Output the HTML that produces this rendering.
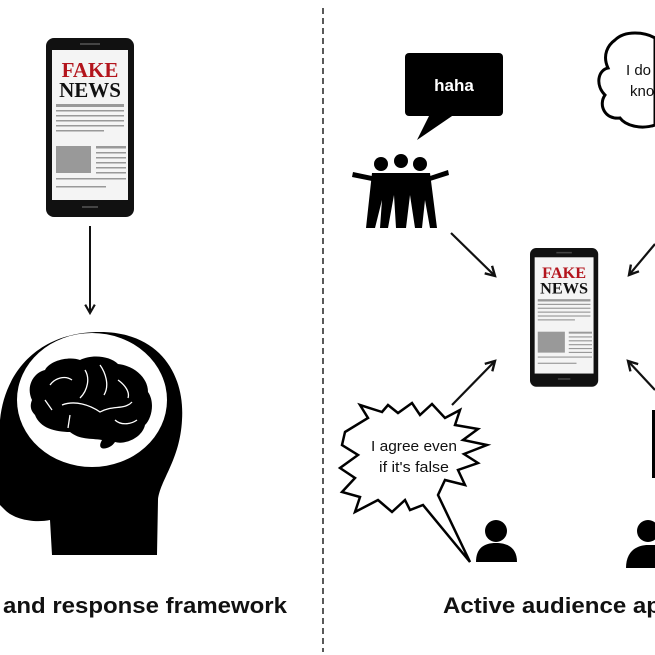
<!DOCTYPE html>
<html><head><meta charset="utf-8"><style>
html,body{margin:0;padding:0;background:#fff;width:655px;height:655px;overflow:hidden}
svg{display:block}
text{font-family:"Liberation Sans",sans-serif}
</style></head><body>
<svg width="655" height="655" viewBox="0 0 655 655" xmlns="http://www.w3.org/2000/svg">
<defs>
<g id="phone">
<rect x="0" y="0" width="88" height="179" rx="8" fill="#111"/>
<rect x="6" y="12" width="76" height="150" fill="#f4f4f4"/>
<rect x="34" y="5" width="20" height="2" fill="#444"/>
<rect x="36" y="168" width="16" height="2" fill="#444"/>
<text x="44" y="39" text-anchor="middle" font-weight="bold" font-size="21" fill="#b3141c" style="font-family:'Liberation Serif',serif">FAKE</text>
<text x="44" y="59" text-anchor="middle" font-weight="bold" font-size="21" fill="#111" style="font-family:'Liberation Serif',serif">NEWS</text>
<rect x="10" y="66" width="68" height="3" fill="#999"/>
<rect x="10" y="72" width="68" height="1.5" fill="#999"/>
<rect x="10" y="77" width="68" height="1.5" fill="#999"/>
<rect x="10" y="82" width="68" height="1.5" fill="#999"/>
<rect x="10" y="87" width="68" height="1.5" fill="#999"/>
<rect x="10" y="92" width="48" height="1.5" fill="#999"/>
<rect x="10" y="108" width="35" height="27" fill="#999"/>
<rect x="50" y="108" width="30" height="2.5" fill="#999"/>
<rect x="50" y="114" width="30" height="1.5" fill="#999"/>
<rect x="50" y="119" width="30" height="1.5" fill="#999"/>
<rect x="50" y="124" width="30" height="1.5" fill="#999"/>
<rect x="50" y="129" width="30" height="1.5" fill="#999"/>
<rect x="50" y="134" width="30" height="1.5" fill="#999"/>
<rect x="10" y="140" width="70" height="1.5" fill="#999"/>
<rect x="10" y="148" width="50" height="1.5" fill="#999"/>
</g>
<marker id="ah" viewBox="0 0 10 10" refX="8" refY="5" markerWidth="6" markerHeight="6" orient="auto"><path d="M1,1 L8,5 L1,9" fill="none" stroke="#111" stroke-width="1.8"/></marker>
</defs>
<use href="#phone" x="46" y="38"/>
<line x1="90" y1="226" x2="90" y2="313" stroke="#111" stroke-width="2" marker-end="url(#ah)"/>
<path d="M0,420 C5,370 40,332 100,332 C160,332 185,375 182,420 C180,460 160,480 158,500 L157,555 L52,555 L50,520 C35,523 15,520 5,510 L0,505 Z" fill="#000"/>
<ellipse cx="92" cy="400" rx="75" ry="67" fill="#fff"/>
<path d="M32,400 C25,385 35,372 45,370 C50,360 70,356 80,360 C92,354 110,356 118,364 C135,366 148,378 148,392 C155,402 152,418 145,425 C142,438 125,445 115,442 C110,450 95,452 102,440 C90,438 80,440 70,432 C55,432 40,428 35,415 C30,410 30,405 32,400 Z" fill="#000"/>
<path d="M50,385 C55,378 65,375 72,380 M85,370 C90,378 88,390 80,398 M100,365 C105,372 110,385 104,395 M62,405 C75,400 90,405 100,412 C112,405 125,410 132,402 M118,380 C125,385 130,392 128,398 M70,415 L68,428 M115,420 C120,425 130,425 137,420 M45,400 L52,410" stroke="#fff" stroke-width="1.3" fill="none"/>
<text x="3" y="613" font-size="22" font-weight="bold" fill="#111" textLength="284" lengthAdjust="spacingAndGlyphs">and response framework</text>
<line x1="323" y1="8" x2="323" y2="652" stroke="#222" stroke-width="1.5" stroke-dasharray="6,4"/>
<rect x="405" y="53" width="98" height="63" rx="4" fill="#000"/>
<path d="M430,114 L417,140 L455,114 Z" fill="#000"/>
<text x="454" y="91" text-anchor="middle" font-size="17" font-weight="bold" fill="#fff">haha</text>
<g fill="#000">
<circle cx="381" cy="164" r="7"/><circle cx="401" cy="161" r="7"/><circle cx="420" cy="164" r="7"/>
<path d="M372,173 L430,173 L437,228 L430,228 L425,200 L422,228 L415,228 L410,195 L406,228 L396,228 L394,195 L388,228 L380,228 L382,200 L375,228 L366,228 Z"/>
<path d="M353,172 L372,176 L372,181 L352,177 Z M430,176 L448,170 L449,175 L430,181 Z"/>
</g>
<line x1="451" y1="233" x2="495" y2="276" stroke="#111" stroke-width="2.2" marker-end="url(#ah)"/>
<g transform="translate(530,248) scale(0.775)"><use href="#phone"/></g>
<path d="M615,40 C625,30 645,32 655,38 L655,125 C640,130 625,125 620,118 C605,120 598,105 605,95 C595,85 598,70 608,68 C602,55 608,45 615,40 Z" fill="#fff" stroke="#000" stroke-width="3"/>
<text x="626" y="75" font-size="15" fill="#111">I do</text>
<text x="630" y="96" font-size="15" fill="#111">kno</text>
<line x1="655" y1="244" x2="629" y2="275" stroke="#111" stroke-width="2.2" marker-end="url(#ah)"/>
<line x1="452" y1="405" x2="495" y2="361" stroke="#111" stroke-width="2.2" marker-end="url(#ah)"/>
<line x1="655" y1="390" x2="628" y2="361" stroke="#111" stroke-width="2.2" marker-end="url(#ah)"/>
<path d="M345,432 L368,418 L360,405 L382,412 L388,405 L398,413 L412,403 L420,415 L432,404 L445,418 L460,410 L455,425 L478,429 L463,440 L487,445 L464,454 L478,463 L458,470 L465,485 L445,480 L438,495 L470,562 L423,505 L410,510 L405,500 L392,512 L378,500 L355,512 L360,497 L342,492 L355,478 L340,468 L358,455 L342,445 Z" fill="#fff" stroke="#000" stroke-width="2.5" stroke-linejoin="miter"/>
<text x="414" y="451" text-anchor="middle" font-size="15" fill="#111" textLength="86" lengthAdjust="spacingAndGlyphs">I agree even</text>
<text x="414" y="472" text-anchor="middle" font-size="15" fill="#111" textLength="70" lengthAdjust="spacingAndGlyphs">if it's false</text>
<circle cx="496" cy="531" r="11" fill="#000"/>
<path d="M476,562 C476,548 484,543 496,543 C508,543 517,548 517,562 Z" fill="#000"/>
<circle cx="648" cy="531" r="11" fill="#000"/>
<path d="M626,568 C626,552 636,545 648,545 L655,545 L655,568 Z" fill="#000"/>
<rect x="652" y="410" width="3" height="68" fill="#000"/>
<text x="443" y="613" font-size="22" font-weight="bold" fill="#111" textLength="218" lengthAdjust="spacingAndGlyphs">Active audience ap</text>
</svg>
</body></html>
